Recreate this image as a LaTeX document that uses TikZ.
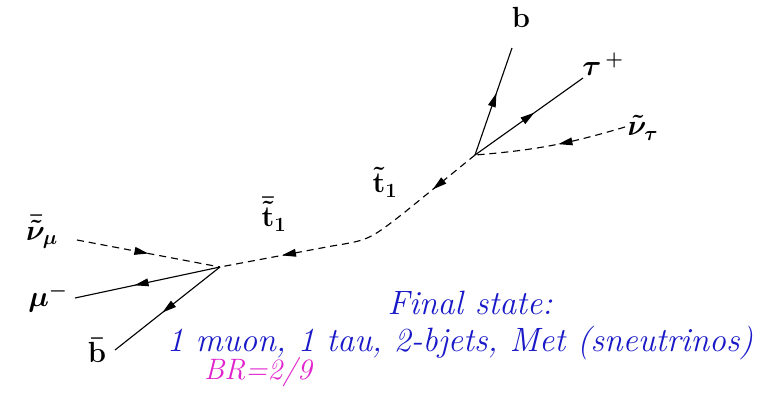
\documentclass[tikz,border=0pt]{standalone}
\usepackage{amsmath}
\usetikzlibrary{arrows.meta, decorations.markings}

\definecolor{azul estado}{RGB}{25,25,200}
\definecolor{magenta br}{RGB}{225,35,205}

\begin{document}
\begin{tikzpicture}[
    x=0.025cm, y=-0.025cm,
    every node/.style={align=center},
    etiqueta particula/.style={font=\huge\boldmath, inner sep=1pt},
    linea fermion/.style={draw=black, line width=0.8pt, postaction={decorate},
        decoration={markings, mark=at position #1 with {\arrow{Triangle[length=10pt,width=5.5pt]}}}},
    linea fermion/.default=0.5,
    linea escalar/.style={linea fermion=#1, dash pattern=on 5pt off 3.5pt},
    linea escalar/.default=0.5,
    linea propagador/.style={draw=black, line width=0.8pt, dash pattern=on 5pt off 3.5pt, postaction={decorate},
        decoration={markings,
            mark=at position 0.19 with {\arrow{Triangle[length=10pt,width=5.5pt]}},
            mark=at position 0.78 with {\arrow{Triangle[length=10pt,width=5.5pt]}}}},
    texto estado/.style={font=\fontsize{24}{28}\selectfont\itshape, text=azul estado},
    texto br/.style={font=\fontsize{21}{25}\selectfont\itshape, text=magenta br}
]
\useasboundingbox (0,0) rectangle (778,397);

% ---- Vertices ----
\coordinate (v1) at (220,267);
\coordinate (v2) at (475,155);

% ---- Codo del propagador ----
\coordinate (codo arriba) at (405,212);
\coordinate (codo control) at (369,240);
\coordinate (codo abajo) at (332,246);

% ---- Extremos libres de las lineas ----
\coordinate (fin nmu) at (77,240);
\coordinate (fin mu) at (75,298);
\coordinate (fin bbar) at (115,350);
\coordinate (fin b) at (512,48);
\coordinate (fin tau) at (583,78);
\coordinate (fin ntau) at (625,127);

% ---- Etiquetas de particulas ----
\node[etiqueta particula] (nmu) at (42,232) {$\bar{\tilde{\nu}}_{\mu}$};
\node[etiqueta particula] (mu) at (48,298) {$\mu^{-}$};
\node[etiqueta particula] (bbar) at (97,350) {$\bar{\mathbf{b}}$};
\node[etiqueta particula] (stopbar) at (274,214) {$\bar{\tilde{\mathbf{t}}}_{1}$};
\node[etiqueta particula] (stop) at (385,182) {$\tilde{\mathbf{t}}_{1}$};
\node[etiqueta particula] (b) at (521,17) {$\mathbf{b}$};
\node[etiqueta particula] (tau) at (603,64) {$\tau^{\,+}$};
\node[etiqueta particula] (ntau) at (643,128) {$\tilde{\nu}_{\tau}$};

% ---- Vertice izquierdo ----
\draw[linea escalar] (fin nmu) -- (v1);
\draw[linea fermion=0.59] (v1) -- (fin mu);
\draw[linea fermion=0.55] (v1) -- (fin bbar);

% ---- Propagador (stop) ----
\draw[linea propagador] (v2) -- (codo arriba) .. controls (codo control) .. (codo abajo) -- (v1);

% ---- Vertice derecho ----
\draw[linea fermion=0.58] (v2) -- (fin b);
\draw[linea fermion=0.55] (v2) -- (fin tau);
\draw[linea escalar=0.45] (fin ntau) to[bend left=6] (v2);

% ---- Texto del estado final ----
\node[texto estado] (estado) at (470,303) {Final state:};
\node[texto estado] (contenido) at (460,343) {1 muon, 1 tau, 2-bjets, Met (sneutrinos)};
\node[texto br] (br) at (258,372) {BR=2/9};

\end{tikzpicture}
\end{document}
